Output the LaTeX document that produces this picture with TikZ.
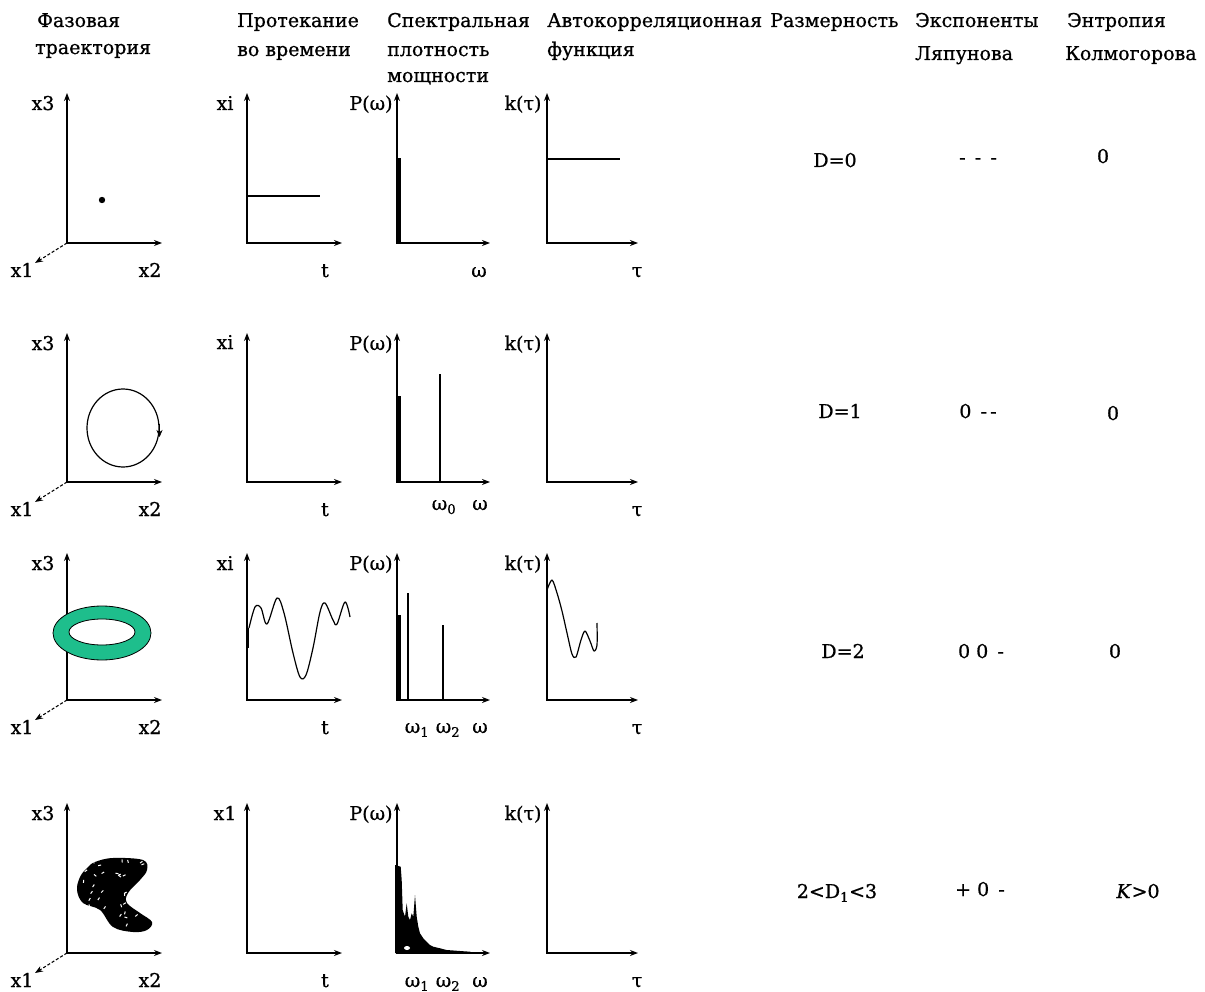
\documentclass[tikz,border=0pt]{standalone}
\usepackage{fontspec}
\setmainfont{DejaVu Serif}[FakeBold=0.8]
\usetikzlibrary{arrows.meta}
\definecolor{torusgreen}{RGB}{30,190,140}

% axes of one small plot: origin (#1,#2), top of vertical axis #3, end of horizontal axis #4
\newcommand\plotaxes[4]{%
  \draw[axis] (#1,#3) -- (#1,#2) -- (#4,#2);}
% third (depth) axis of a phase portrait
\newcommand\depthaxis[2]{%
  \draw[depthax] (#1,#2) -- ++(-32,20);}

\begin{document}
\begin{tikzpicture}[x=1pt,y=-1pt,
  axis/.style={line width=1.5pt,{Stealth[length=8pt,width=6pt]}-{Stealth[length=8pt,width=6pt]}},
  depthax/.style={line width=1.1pt,densely dashed,-{Stealth[length=8pt,width=6pt]}},
  lbl/.style={font=\fontsize{19}{20}\selectfont,inner sep=0pt,anchor=base},
  head/.style={font=\fontsize{19}{20}\selectfont,inner sep=0pt,anchor=base west},
  val/.style={font=\fontsize{19}{20}\selectfont,inner sep=0pt,anchor=base},
  curve/.style={line width=1.2pt,line join=round},
  bar/.style={fill=black},
  line/.style={line width=1.5pt}]

\fill[white] (0,0) rectangle (1205,992);
\useasboundingbox (0,0) rectangle (1205,992);

% ---------- column headings ----------
\node[head] (h1a) at (37,27) {Фазовая};
\node[head] (h1b) at (35,54) {траектория};
\node[head] (h2a) at (237,27) {Протекание};
\node[head] (h2b) at (237,56) {во времени};
\node[head] (h3a) at (387,27) {Спектральная};
\node[head] (h3b) at (387,56) {плотность};
\node[head] (h3c) at (387,82) {мощности};
\node[head] (h4a) at (547,27) {Автокорреляционная};
\node[head] (h4b) at (547,56) {функция};
\node[head] (h5a) at (770,27) {Размерность};
\node[head] (h6a) at (915,27) {Экспоненты};
\node[head] (h6b) at (915,60) {Ляпунова};
\node[head] (h7a) at (1067,27) {Энтропия};
\node[head] (h7b) at (1065,60) {Колмогорова};

% ---------- axes of all four rows ----------
\foreach \oy/\ty in {243/93, 482/333, 700/553, 953/803}{
  \plotaxes{67}{\oy}{\ty}{162}
  \depthaxis{67}{\oy}
  \plotaxes{247}{\oy}{\ty}{342}
  \plotaxes{397}{\oy}{\ty}{490}
  \plotaxes{547}{\oy}{\ty}{638}
  \node[lbl] at (43,\ty+17) {x3};
  \node[lbl] at (523,\ty+17) {k(τ)};
  \node[lbl] at (371,\ty+17) {P(ω)};
  \node[lbl] at (22,\oy+34) {x1};
  \node[lbl] at (150,\oy+34) {x2};
  \node[lbl] at (325,\oy+34) {t};
  \node[lbl] at (637,\oy+34) {τ};
}
\node[lbl] (xi1) at (225,110) {xi};
\node[lbl] (xi2) at (225,349) {xi};
\node[lbl] (xi3) at (225,570) {xi};
\node[lbl] (xi4) at (225,820) {x1};

% ---------- row 1: fixed point ----------
\fill (102,200) circle (3.2pt);
\draw[line] (247,196) -- (320,196);
\fill[bar] (396,158) rectangle (401,243);
\draw[line] (547,159) -- (620,159);
\node[lbl] (w1) at (479,277) {ω};

% ---------- row 2: limit cycle ----------
\draw[curve] (123,428) ellipse [x radius=36pt, y radius=39pt];
\draw[-{Stealth[length=7pt,width=6pt]}] (159.5,424) -- (159.5,437);
\fill[bar] (396,396) rectangle (401,482);
\draw[line] (440,374) -- (440,482);
\node[lbl] (w20) at (444,510) {ω\textsubscript{0}};
\node[lbl] (w2) at (480,510) {ω};

% ---------- row 3: torus ----------
\fill[torusgreen,draw=black,line width=0.8pt,even odd rule]
  (102,633) ellipse [x radius=49pt, y radius=27pt]
  (102,632) ellipse [x radius=33pt, y radius=13pt];
\draw[line width=2.6pt] (248,628) -- (248,648);
\draw[curve] plot[smooth,tension=0.55] coordinates {
  (249,628) (255,607) (261,608) (267,624) (277,598) (284,613)
  (293,653) (300,677) (306,675) (313,648) (320,612) (325,603)
  (333,620) (337,624) (345,602) (350,617)};
\fill[bar] (396,615) rectangle (401,700);
\draw[line] (408,593) -- (408,700);
\draw[line] (443,625) -- (443,700);
\draw[curve] plot[smooth,tension=0.5] coordinates {
  (547,590) (552,580) (557,593) (562,611) (567,633) (572,654)
  (576,657) (581,640) (585,631) (590,641) (594,651) (597,645) (597,623)};
\node[lbl] (w31) at (417,733) {ω\textsubscript{1}};
\node[lbl] (w32) at (448,733) {ω\textsubscript{2}};
\node[lbl] (w3) at (480,733) {ω};

% ---------- row 4: strange attractor ----------
\begin{scope}
  \path[clip] plot[smooth cycle,tension=0.6] coordinates {
    (95,862) (113,858) (143,860) (147,870) (140,880) (128,893) (127,903)
    (140,913) (152,922) (147,930) (133,932) (113,927) (100,910) (83,903)
    (77,890) (80,877) (87,868)};
  \fill (70,850) rectangle (160,940);
  \pgfmathsetseed{11}
  \foreach \k in {1,...,34}{
    \pgfmathsetmacro\px{80+70*rnd}
    \pgfmathsetmacro\py{860+70*rnd}
    \pgfmathsetmacro\ang{180*rnd}
    \draw[white,line width=1pt] (\px,\py) -- ++(\ang:3pt);
  }
\end{scope}
\fill[bar] (395,953) -- (395,865) -- (400.7,866.7) -- (401.7,880) -- (402.7,910)
  -- (405,916.7) -- (406.7,903.3) -- (408.3,916.7) -- (410,920) -- (411.7,913.3)
  -- (413.3,916.7) -- (415,895) -- (416.7,916.7) -- (418.3,926.7) -- (420,933.3)
  -- (423.3,938.3) -- (426.7,941.7) -- (430,945) -- (433.3,946.7) -- (440,948.3)
  -- (446.7,950) -- (460,951) -- (470,951.7) -- (473,953) -- cycle;
\fill[white] (407,948) ellipse [x radius=3pt, y radius=2pt];
\node[lbl] (w41) at (417,987) {ω\textsubscript{1}};
\node[lbl] (w42) at (448,987) {ω\textsubscript{2}};
\node[lbl] (w4) at (480,987) {ω};

% ---------- dimension, Lyapunov exponents, entropy ----------
\node[val] (d1) at (835,167) {D=0};
\node[val] (l1) at (978,164) {-\, -\, -};
\node[val] (k1) at (1103,163) {0};
\node[val] (d2) at (840,418) {D=1};
\node[val] (l2) at (978,418) {0\, -\,-};
\node[val] (k2) at (1113,420) {0};
\node[val] (d3) at (843,658) {D=2};
\node[val] (l3) at (981,658) {0 0\, -};
\node[val] (k3) at (1115,658) {0};
\node[val] (d4) at (837,898) {2<D\textsubscript{1}<3};
\node[val] (l4) at (980,896) {+ 0\, -};
\node[val] (k4) at (1138,898) {\textit{K}>0};

\end{tikzpicture}
\end{document}
